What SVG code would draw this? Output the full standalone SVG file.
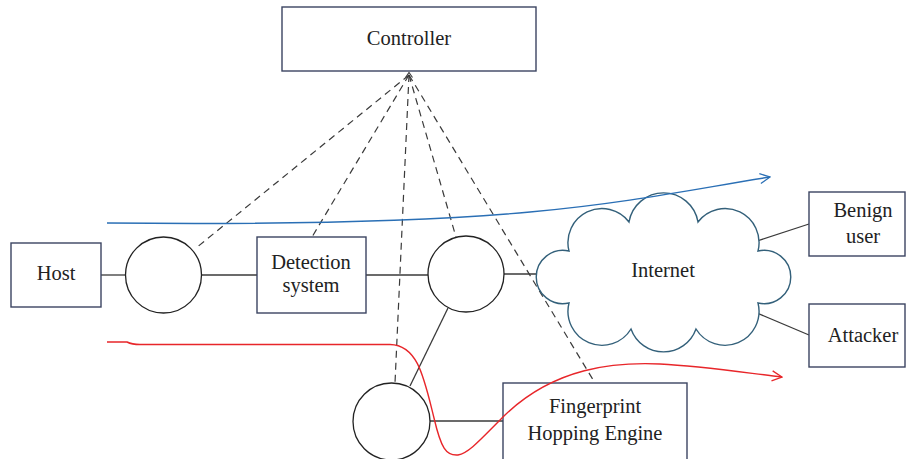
<svg xmlns="http://www.w3.org/2000/svg" width="906" height="459" viewBox="0 0 906 459">
  <style>
    .box { fill: #ffffff; stroke: #3b4461; stroke-width: 1.4; }
    .sw { fill: #ffffff; stroke: #222222; stroke-width: 1.3; }
    .link { fill: none; stroke: #3a3a3a; stroke-width: 1.3; }
    .ctrl { fill: none; stroke: #3a3a3a; stroke-width: 1.2; stroke-dasharray: 7 5; }
    .cloud { fill: #ffffff; stroke: #33607a; stroke-width: 1.4; }
    text { font-family: 'Liberation Serif', Tinos, 'Noto Serif', 'DejaVu Serif', serif; font-size: 20.5px; fill: #222222; text-anchor: middle; }
    .benign { fill: none; stroke: #2a6fb5; stroke-width: 1.4; }
    .attack { fill: none; stroke: #e8262a; stroke-width: 1.4; }
  </style>
  <defs>
    <marker id="headBlue" viewBox="0 0 12 12" refX="11" refY="6" markerWidth="12" markerHeight="12" markerUnits="userSpaceOnUse" orient="auto">
      <path d="M1,1 L11,6 L1,11" fill="none" stroke="#2a6fb5" stroke-width="1.3"/>
    </marker>
    <marker id="headRed" viewBox="0 0 12 12" refX="11" refY="6" markerWidth="12" markerHeight="12" markerUnits="userSpaceOnUse" orient="auto">
      <path d="M1,1 L11,6 L1,11" fill="none" stroke="#e8262a" stroke-width="1.3"/>
    </marker>
  </defs>

  <rect width="906" height="459" fill="#ffffff"/>

  <g id="connectors">
    <!-- data-plane links -->
    <line class="link" x1="101" y1="275" x2="125" y2="275"/>
    <line class="link" x1="202" y1="275" x2="257" y2="275"/>
    <line class="link" x1="366" y1="275" x2="428" y2="275"/>
    <line class="link" x1="504" y1="274" x2="538" y2="274"/>
    <line class="link" x1="410" y1="386" x2="448" y2="308"/>
    <line class="link" x1="430" y1="421" x2="503" y2="421"/>
    <line class="link" x1="757" y1="241" x2="809" y2="224"/>
    <line class="link" x1="757" y1="313" x2="809" y2="335"/>
    <!-- control-plane links to the controller -->
    <line class="ctrl" x1="409" y1="75" x2="196" y2="248"/>
    <line class="ctrl" x1="409" y1="75" x2="312" y2="237"/>
    <line class="ctrl" x1="409" y1="75" x2="395" y2="383"/>
    <line class="ctrl" x1="409" y1="75" x2="456" y2="237"/>
    <line class="ctrl" x1="409" y1="75" x2="595" y2="383"/>
    <path d="M405.5,77.5 L409,72.5 L412.5,77.5" fill="none" stroke="#3a3a3a" stroke-width="1.1"/>
  </g>

  <g id="controller">
    <rect class="box" x="282" y="7" width="254" height="64"/>
    <text x="409" y="45">Controller</text>
  </g>

  <g id="host">
    <rect class="box" x="11" y="243" width="90" height="64"/>
    <text x="56" y="280">Host</text>
  </g>

  <g id="switch-1">
    <circle class="sw" cx="163.5" cy="275" r="38"/>
  </g>

  <g id="detection-system">
    <rect class="box" x="257" y="237" width="109" height="76"/>
    <text x="311" y="269">Detection</text>
    <text x="311" y="292">system</text>
  </g>

  <g id="switch-2">
    <circle class="sw" cx="466" cy="274" r="38"/>
  </g>

  <g id="switch-3">
    <circle class="sw" cx="391.5" cy="421.5" r="38.5"/>
  </g>

  <g id="fingerprint-hopping-engine">
    <rect class="box" x="503" y="383" width="184" height="90"/>
    <text x="595" y="413">Fingerprint</text>
    <text x="595" y="440">Hopping Engine</text>
  </g>

  <g id="internet">
    <path class="cloud" d="M569,251 A34,34 0 0 1 629,222 A35,35 0 0 1 698,222 A34,34 0 0 1 758,251 A26.7,26.7 0 1 1 758,303 A34,34 0 0 1 696,329 A34.5,34.5 0 0 1 631,329 A34,34 0 0 1 569,303 A26.7,26.7 0 1 1 569,251 Z"/>
    <text x="663" y="277">Internet</text>
  </g>

  <g id="benign-user">
    <rect class="box" x="809" y="192" width="96" height="64"/>
    <text x="863" y="217">Benign</text>
    <text x="863" y="243">user</text>
  </g>

  <g id="attacker">
    <rect class="box" x="809" y="304" width="96" height="63"/>
    <text x="863" y="342">Attacker</text>
  </g>

  <g id="flows">
    <path class="benign" marker-end="url(#headBlue)" d="M107,223 C300,225 430,221 530,212 C630,203 700,188 770,177"/>
    <path class="attack" marker-end="url(#headRed)" d="M107,342 L127,342 Q132,344.5 140,344.5 L390,344.5 C418,345 424,378 434,418 C441,448 446,456 458,455 C469,453 480,440 505,415 C555,367 615,362 660,364 C700,366 740,372 782,377"/>
  </g>
</svg>
